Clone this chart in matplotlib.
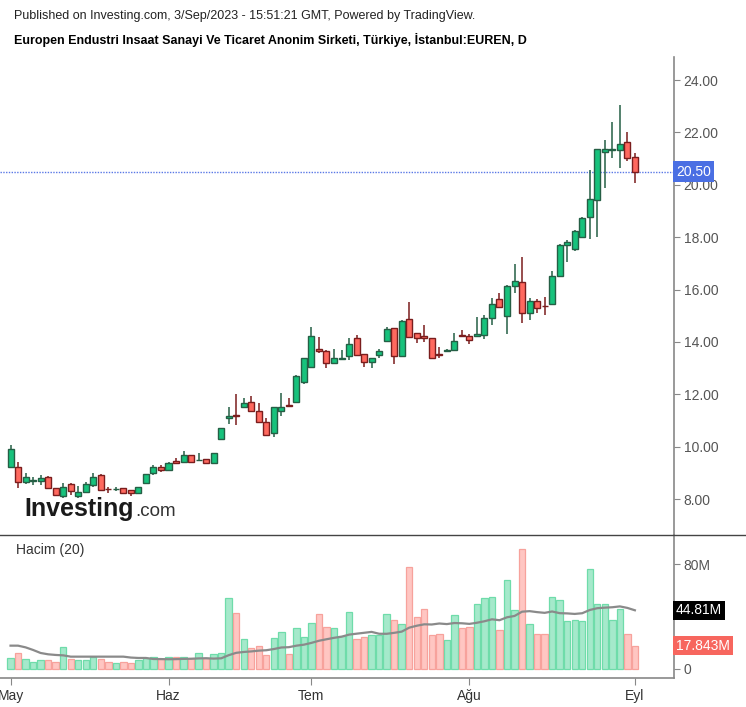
import numpy as np
import pandas as pd
import matplotlib
matplotlib.use('Agg')
import matplotlib.pyplot as plt
from matplotlib.lines import Line2D
from matplotlib.transforms import blended_transform_factory

plt.rcParams['font.family'] = ['Liberation Sans', 'DejaVu Sans']

# trading days (Borsa Istanbul holidays removed)
dates = pd.bdate_range('2023-05-02', '2023-09-01')
holidays = pd.to_datetime(['2023-05-19', '2023-06-28', '2023-06-29', '2023-06-30', '2023-08-30'])
dates = dates[~dates.isin(holidays)]

opens = [9.92, 9.22, 8.65, 8.70, 8.68, 8.85, 8.42, 8.12, 8.57, 8.12,
         8.26, 8.54, 8.91, 8.40, 8.37, 8.42, 8.33, 8.23, 8.61, 9.01,
         9.22, 9.11, 9.47, 9.43, 9.68, 9.48, 9.52, 9.37, 10.31, 11.08,
         11.22, 11.51, 11.71, 11.37, 10.93, 10.51, 11.37, 11.58, 11.70, 12.46,
         13.03, 13.72, 13.67, 13.19, 13.34, 13.47, 14.14, 13.53, 13.22, 13.50,
         14.02, 14.52, 13.47, 14.87, 14.33, 14.23, 14.14, 13.55, 13.66, 13.69,
         14.24, 14.23, 14.23, 14.27, 14.90, 15.63, 15.00, 16.14, 16.30, 15.12,
         15.58, 15.39, 15.46, 16.52, 17.70, 17.56, 17.99, 18.78, 19.42, 21.27,
         21.34, 21.33, 21.62, 21.05]
highs = [10.07, 9.43, 8.99, 8.86, 8.92, 8.87, 8.44, 8.61, 8.63, 8.50,
         8.67, 9.01, 8.95, 8.48, 8.46, 8.44, 8.35, 8.47, 8.96, 9.30,
         9.30, 9.41, 9.56, 9.85, 9.70, 9.75, 9.55, 9.77, 10.73, 11.53,
         12.00, 11.85, 11.92, 11.66, 11.09, 11.53, 12.04, 11.85, 12.72, 13.40,
         14.58, 14.20, 13.69, 13.72, 13.69, 14.14, 14.27, 13.55, 13.40, 13.72,
         14.58, 14.55, 14.83, 15.54, 14.35, 14.65, 14.16, 13.82, 13.72, 14.36,
         14.46, 14.30, 14.97, 15.03, 15.67, 15.87, 16.16, 16.98, 17.26, 15.67,
         15.64, 15.73, 16.72, 17.74, 17.91, 18.28, 18.79, 20.56, 21.38, 21.71,
         22.41, 23.05, 22.03, 21.20]
lows = [9.20, 8.42, 8.58, 8.54, 8.54, 8.40, 8.12, 8.03, 8.16, 8.03,
        8.24, 8.48, 8.33, 8.25, 8.30, 8.21, 8.12, 8.21, 8.59, 8.92,
        9.05, 9.08, 9.33, 9.41, 9.38, 9.46, 9.35, 9.35, 10.27, 10.87,
        10.83, 11.48, 11.35, 10.92, 10.43, 10.36, 11.18, 11.54, 11.68, 12.40,
        13.00, 13.59, 13.02, 13.17, 13.31, 13.31, 13.50, 13.06, 13.02, 13.40,
        14.00, 13.16, 13.45, 14.16, 13.97, 14.01, 13.36, 13.38, 13.62, 13.67,
        14.20, 13.92, 14.20, 14.10, 14.65, 15.30, 14.32, 15.88, 14.74, 14.84,
        15.12, 15.03, 15.43, 16.50, 17.07, 17.49, 17.97, 17.93, 18.02, 19.89,
        21.01, 20.65, 20.92, 20.08]
closes = [9.22, 8.65, 8.86, 8.72, 8.79, 8.42, 8.17, 8.45, 8.30, 8.27,
          8.57, 8.85, 8.35, 8.37, 8.40, 8.23, 8.24, 8.45, 8.94, 9.24,
          9.11, 9.39, 9.37, 9.68, 9.41, 9.50, 9.37, 9.75, 10.71, 11.19,
          11.19, 11.66, 11.37, 10.93, 10.45, 11.51, 11.52, 11.55, 12.70, 13.38,
          14.24, 13.64, 13.19, 13.38, 13.36, 13.91, 13.52, 13.22, 13.38, 13.67,
          14.49, 13.47, 14.81, 14.18, 14.14, 14.14, 13.38, 13.52, 13.68, 14.05,
          14.22, 14.08, 14.29, 14.90, 15.44, 15.32, 16.14, 16.33, 15.12, 15.56,
          15.29, 15.36, 16.52, 17.71, 17.81, 18.24, 18.72, 19.44, 21.36, 21.36,
          21.38, 21.55, 21.01, 20.50]
up = [True, False, True, True, True, False, False, True, False, True,
      True, True, False, False, True, False, False, True, True, True,
      False, True, False, True, False, True, False, True, True, True,
      False, True, False, False, False, True, True, False, True, True,
      True, False, False, True, True, True, False, False, True, True,
      True, False, True, False, False, False, False, False, True, True,
      False, False, True, True, True, False, True, True, False, True,
      False, False, True, True, True, True, True, True, True, True,
      True, True, False, False]
# volume in millions
volume = [8.4, 12.2, 7.6, 5.6, 6.6, 6.6, 5.6, 17.0, 7.6, 6.6,
          6.6, 9.4, 7.6, 5.6, 4.3, 5.6, 4.6, 6.6, 8.4, 9.4,
          7.6, 9.4, 9.4, 9.4, 8.4, 12.0, 8.4, 11.2, 12.2, 54.2,
          42.7, 22.6, 16.0, 17.3, 10.7, 23.7, 28.5, 11.2, 31.3, 24.7,
          35.1, 41.7, 32.3, 31.3, 25.4, 43.8, 22.9, 24.7, 26.0, 26.0,
          41.7, 37.4, 34.4, 78.1, 40.0, 45.5, 25.7, 26.5, 22.1, 41.0,
          31.3, 32.3, 49.6, 54.2, 55.2, 29.8, 67.7, 45.0, 91.3, 34.4,
          26.5, 26.5, 55.2, 52.4, 36.4, 37.4, 36.4, 76.0, 49.4, 49.4,
          37.4, 45.5, 26.5, 17.843]
# 20-day volume average before enough history is shown
vol_ma_head = [17.8, 17.8, 16.5, 14.5, 12.2, 11.2, 10.7, 10.4, 9.4, 9.4,
               9.4, 9.4, 9.4, 9.4, 9.4, 9.4, 8.7, 8.4, 8.4]
month_names = {5: 'May', 6: 'Haz', 7: 'Tem', 8: 'Ağu', 9: 'Eyl'}

x = np.arange(len(dates))
opens = np.array(opens)
closes = np.array(closes)
volume = np.array(volume)
vol_ma = pd.Series(volume).rolling(20).mean().values
vol_ma[:len(vol_ma_head)] = vol_ma_head

green_fill, green_edge = '#17c27c', '#255f45'
red_fill, red_edge = '#ff695f', '#7a1d1d'

W, H = 746, 707
fig = plt.figure(figsize=(W / 100, H / 100), dpi=100)
ax = fig.add_axes([0, 1 - 535 / H, 674 / W, (535 - 57) / H])
axv = fig.add_axes([0, 1 - 678 / H, 674 / W, (678 - 535) / H], sharex=ax)

# candles
wick_cols = [green_edge if u else red_edge for u in up]
ax.vlines(x, lows, highs, colors=wick_cols, lw=1.1, zorder=2)
body_bot = np.minimum(opens, closes)
body_h = np.maximum(np.abs(closes - opens), 0.03)
ax.bar(x, body_h, bottom=body_bot, width=0.8,
       color=[green_fill if u else red_fill for u in up],
       edgecolor=[green_edge if u else red_edge for u in up], linewidth=1.0, zorder=3)

last = closes[-1]
ax.axhline(last, color='#5a78e6', ls=(0, (1, 1)), lw=1, zorder=1)
trans = blended_transform_factory(ax.transAxes, ax.transData)
ax.text(1.003, last, f'{last:.2f}', transform=trans, ha='left', va='center', color='white',
        fontsize=10, bbox=dict(boxstyle='square,pad=0.25', fc='#4a6fe3', ec='none'), zorder=5, clip_on=False)

ax.set_xlim(-1.4, 88.2)
ax.set_ylim(6.63, 24.88)
ax.set_yticks(np.arange(8, 25, 2))
ax.set_yticklabels([f'{v:.2f}' for v in np.arange(8, 25, 2)])
ax.yaxis.tick_right()
ax.tick_params(axis='y', direction='out', length=4, color='#888888', labelcolor='#555555',
               labelsize=10, pad=3)
ax.tick_params(axis='x', bottom=False, labelbottom=False)
for s in ['top', 'left', 'bottom']:
    ax.spines[s].set_visible(False)
ax.spines['right'].set_color('#888888')
ax.spines['right'].set_linewidth(1.2)

# volume
vfill = ['#a5e9cb' if u else '#ffc6c2' for u in up]
vedge = ['#6fdcaa' if u else '#f7a29c' for u in up]
axv.bar(x, volume, width=0.85, color=vfill, edgecolor=vedge, linewidth=0.9, zorder=2)
axv.plot(x, vol_ma, color='#8a8a8a', lw=1.6, zorder=3)
axv.set_ylim(-6.9, 102.3)
axv.set_yticks([0, 80])
axv.set_yticklabels(['0', '80M'])
axv.yaxis.tick_right()
axv.tick_params(axis='y', direction='out', length=4, color='#888888', labelcolor='#555555',
                labelsize=10, pad=3)
vtrans = blended_transform_factory(axv.transAxes, axv.transData)
axv.text(1.003, vol_ma[-1], f'{vol_ma[-1]:.2f}M', transform=vtrans, ha='left', va='center',
         color='white', fontsize=10, bbox=dict(boxstyle='square,pad=0.2', fc='black', ec='none'),
         zorder=5, clip_on=False)
axv.text(1.003, volume[-1], f'{volume[-1]:.3f}M', transform=vtrans, ha='left', va='center',
         color='white', fontsize=10, bbox=dict(boxstyle='square,pad=0.2', fc='#f7665e', ec='none'),
         zorder=5, clip_on=False)

month_pos = [i for i in range(len(dates)) if i == 0 or dates[i].month != dates[i - 1].month]
axv.set_xticks(month_pos)
axv.set_xticklabels([month_names[dates[i].month] for i in month_pos])
axv.tick_params(axis='x', direction='out', length=5, color='#888888', labelcolor='#333333',
                labelsize=10, pad=3)
for s in ['top', 'left']:
    axv.spines[s].set_visible(False)
for s in ['right', 'bottom']:
    axv.spines[s].set_color('#888888')
    axv.spines[s].set_linewidth(1.2)

fig.add_artist(Line2D([0, 1], [1 - 535 / H, 1 - 535 / H], transform=fig.transFigure,
                      color='#444444', lw=1))

fig.text(14 / W, 1 - 16 / H, 'Published on Investing.com, 3/Sep/2023 - 15:51:21 GMT, Powered by TradingView.',
         va='center', ha='left', fontsize=9, color='#222222')
fig.text(14 / W, 1 - 40 / H,
         'Europen Endustri Insaat Sanayi Ve Ticaret Anonim Sirketi, Türkiye, İstanbul:EUREN, D',
         va='center', ha='left', fontsize=9, fontweight='bold', color='black')
fig.text(16 / W, 1 - 550 / H, 'Hacim (20)', va='center', ha='left', fontsize=10, color='#333333')

# watermark
fig.text(24 / W, 1 - 516 / H, 'Investing', va='baseline', ha='left', fontsize=18,
         fontweight='bold', color='#1a1a1a', zorder=0)
fig.text(135 / W, 1 - 516 / H, '.com', va='baseline', ha='left', fontsize=13.5, color='#333333',
         zorder=0)

fig.savefig('out.png', dpi=100)
